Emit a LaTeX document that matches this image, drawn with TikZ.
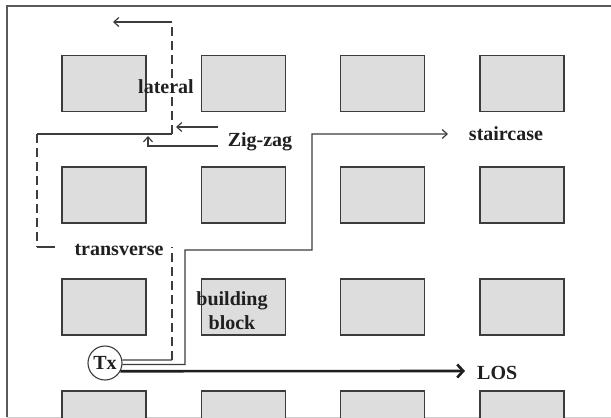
\documentclass[tikz,border=0pt]{standalone}
\usepackage{fontspec}
\setmainfont{Liberation Serif}
\usetikzlibrary{positioning, arrows.meta, calc}
\definecolor{bGray}{HTML}{DDDDDD}
\definecolor{lGray}{HTML}{3C3C3C}

\begin{document}
\begin{tikzpicture}[x=1pt, y=-1pt,
  block/.style={draw=lGray, fill=bGray, line width=1.4pt,
                minimum width=84pt, minimum height=56pt, inner sep=0pt},
  lbl/.style={font=\fontsize{20}{24}\selectfont\bfseries,
              text=black!88, inner sep=0pt},
  route/.style={draw=lGray, line width=1.2pt},
  hidden/.style={route, dash pattern=on 9pt off 5pt},
  tip/.style={-{Straight Barb[length=5pt, width=9pt]}},
]
  \useasboundingbox (0,0) rectangle (611,418);
  \draw[line width=1.3pt, lGray!85] (611,6) -- (7,6) -- (7,417);
  \draw[gray!40] (7,417.5) -- (611,417.5);

  \begin{scope}
    \clip (7,6) rectangle (611,417);
    \foreach \c [count=\i] in {104,243.5,382.5,522}
      \foreach \r [count=\j] in {83.5,195,307,419}
        \node[block] (b\i\j) at (\c,\r) {};
  \end{scope}

  \node[circle, draw=lGray, fill=white, line width=1.1pt, minimum size=34pt,
        lbl] (Tx) at (105,363) {Tx};

  \coordinate (z1) at (172,360);
  \coordinate (z2) at (172,247);
  \coordinate (z3) at (37,247);
  \coordinate (z4) at (37,134);
  \coordinate (z5) at (172,134);
  \coordinate (z6) at (172,22);
  \coordinate (z7) at (113,22);
  \draw[route] (Tx.10) -- (z1);
  \draw[hidden] (z1) -- (z2);
  \draw[route, dash pattern=on 18pt off 200pt] (z3) -- (z2);
  \draw[hidden] (z4) -- (z3);
  \draw[route] (z4) -- (z5);
  \draw[hidden] (z5) -- (z6);
  \draw[route, tip] (z6) -- (z7);

  \coordinate (s1) at (185,364.5);
  \coordinate (s2) at (185,250);
  \coordinate (s3) at (312,250);
  \coordinate (s4) at (312,134);
  \coordinate (s5) at (448,134);
  \draw[route, tip] (Tx.-5) -- (s1) -- (s2) -- (s3) -- (s4) -- (s5);

  \coordinate (l1) at (465,371);
  \draw[line width=2.6pt, black!88, -{Straight Barb[length=6pt, width=13pt]}]
    (Tx.-28) -- (l1);

  \coordinate (p1) at (218,127);
  \coordinate (p2) at (176,127);
  \coordinate (p3) at (218,146);
  \coordinate (p4) at (148,146);
  \coordinate (p5) at (148,136);
  \draw[route, tip] (p1) -- (p2);
  \draw[route, tip] (p3) -- (p4) -- (p5);

  \node[lbl, anchor=base] (lat) at (166,93) {lateral};
  \node[lbl, anchor=base] (zz) at (260,146) {Zig-zag};
  \node[lbl, anchor=base] (stair) at (506,140) {staircase};
  \node[lbl, anchor=base] (trans) at (119,255) {transverse};
  \node[lbl, align=center] (bb) at (232,311) {building\\block};
  \node[lbl, anchor=base west] (los) at (477,379) {LOS};
\end{tikzpicture}
\end{document}
